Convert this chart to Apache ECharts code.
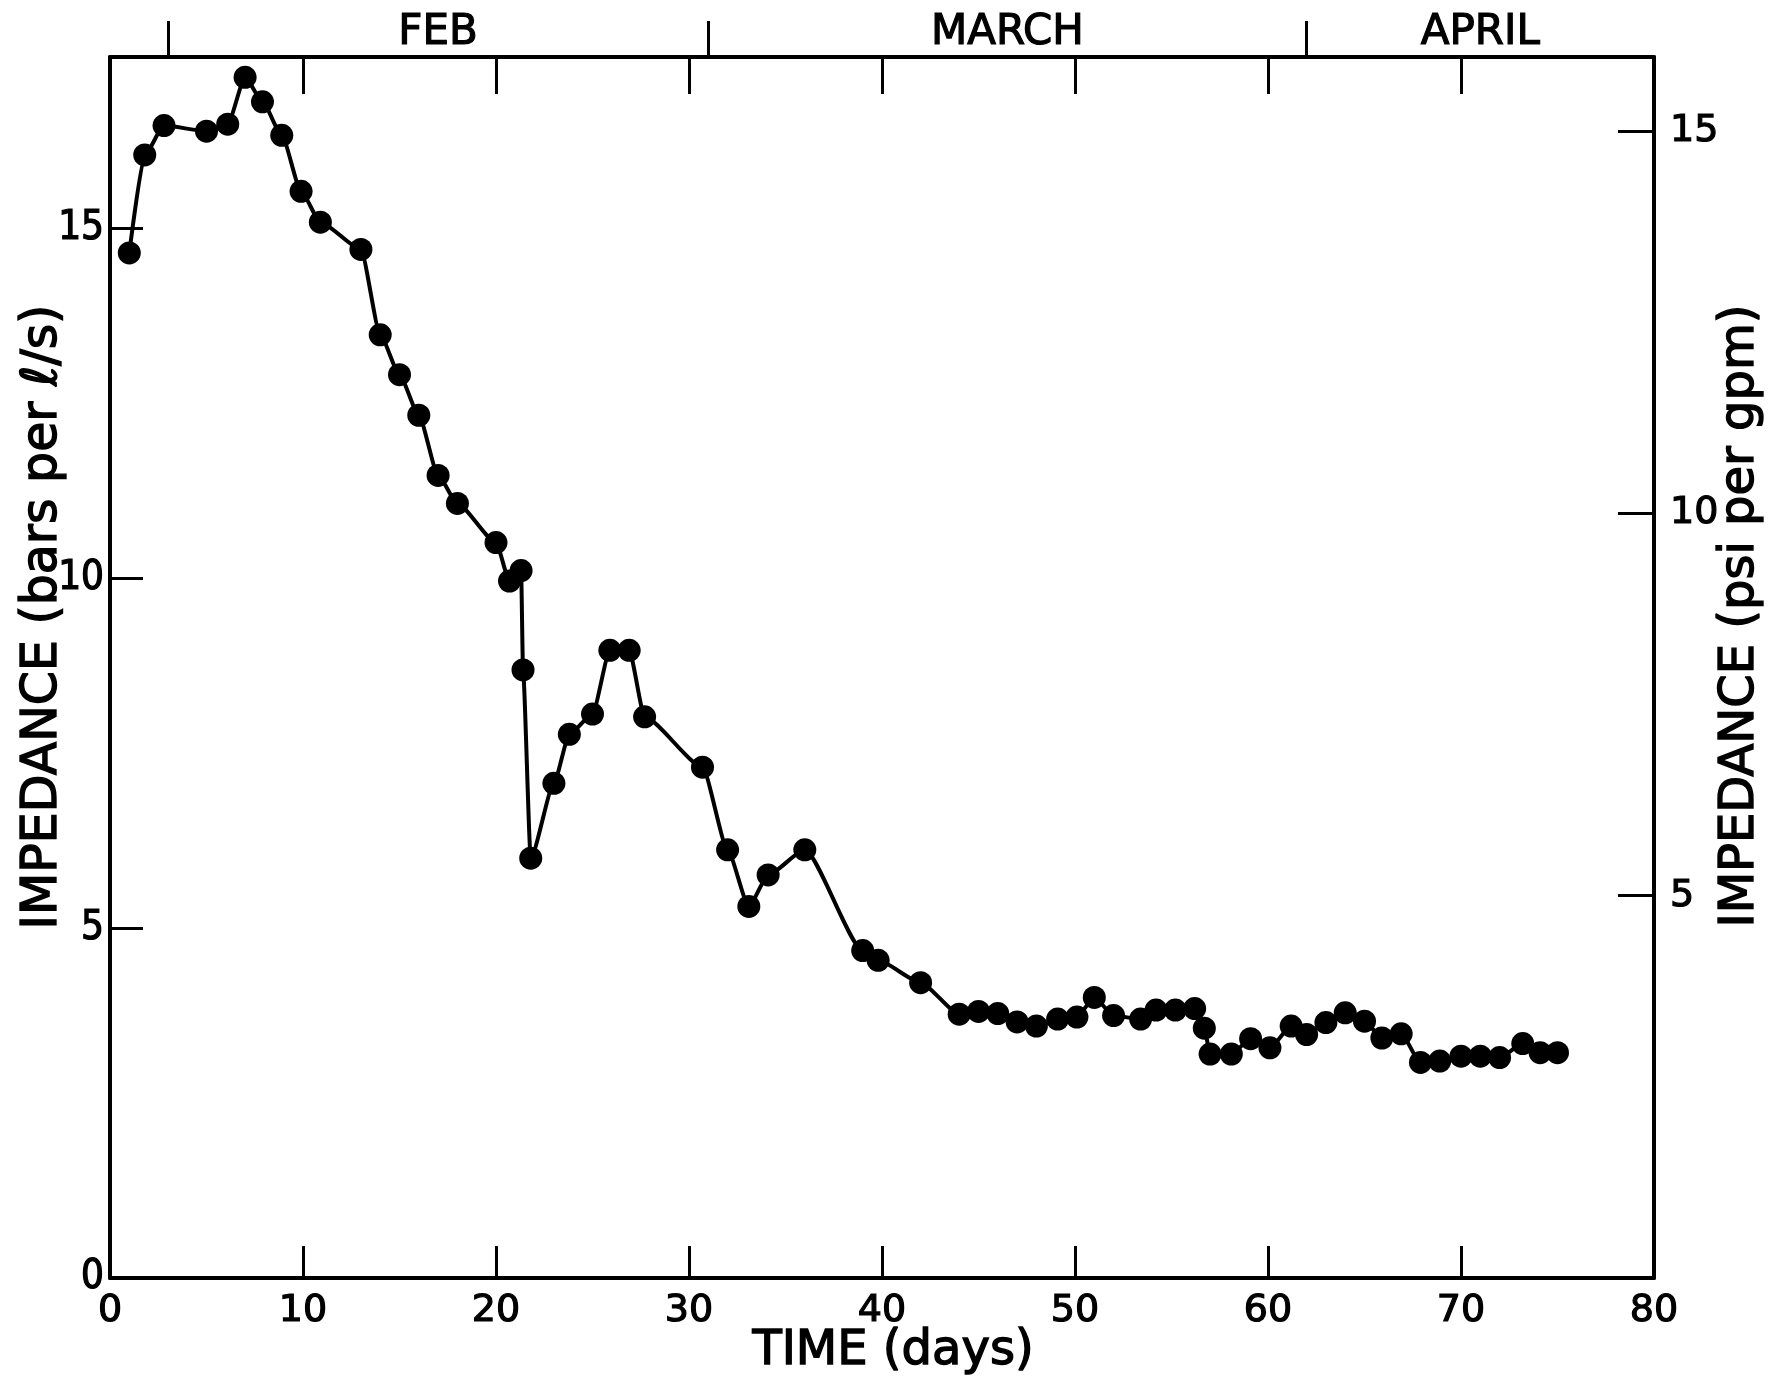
<!DOCTYPE html>
<html>
<head>
<meta charset="utf-8">
<title>Impedance vs time</title>
<script src="https://cdn.jsdelivr.net/npm/echarts@6/dist/echarts.min.js"></script>
<style>
  html, body { margin: 0; padding: 0; background: #fff; }
  #chart { width: 1784px; height: 1387px; }
</style>
</head>
<body>
<div id="chart"></div>
<script>
// Measurement days (from start of test) and impedance in bars per l/s
const DAYS = [
  1, 1.8, 2.8, 5, 6.1, 7, 7.9, 8.9, 9.9, 10.9,
  13, 14, 15, 16, 17, 18, 20, 20.7, 21.3, 21.4,
  21.8, 23, 23.8, 25, 25.9, 26.9, 27.7, 30.7, 32, 33.1,
  34.1, 36, 39, 39.8, 42, 44, 45, 46, 47, 48,
  49.1, 50.1, 51, 52, 53.4, 54.2, 55.2, 56.2, 56.7, 57,
  58.1, 59.1, 60.1, 61.2, 62, 63, 64, 65, 65.9, 66.9,
  67.9, 68.9, 70, 71, 72, 73.2, 74.1, 75
];
const IMPEDANCE_BAR = [
  14.65, 16.05, 16.47, 16.39, 16.49, 17.16, 16.81, 16.33, 15.53, 15.09,
  14.70, 13.48, 12.91, 12.33, 11.47, 11.07, 10.51, 9.96, 10.11, 8.69,
  6.00, 7.07, 7.77, 8.06, 8.97, 8.97, 8.02, 7.30, 6.12, 5.31,
  5.76, 6.12, 4.68, 4.54, 4.22, 3.77, 3.81, 3.78, 3.66, 3.60,
  3.70, 3.73, 4.01, 3.75, 3.70, 3.83, 3.83, 3.85, 3.57, 3.20,
  3.20, 3.42, 3.29, 3.60, 3.48, 3.65, 3.79, 3.67, 3.43, 3.49,
  3.08, 3.10, 3.17, 3.17, 3.15, 3.35, 3.22, 3.22
];

// Calendar months along the top: day on which each month starts, and label position
const MONTH_NAMES = ['FEB', 'MARCH', 'APRIL'];
const MONTH_START_DAYS = [3, 31, 62];
const MONTH_LABEL_DAYS = [17, 46.5, 71];

// Tick values on the two impedance scales
const BAR_TICKS = [5, 10, 15];
const BAR_LABELS = [0, 5, 10, 15];
const PSI_TICKS = [5, 10, 15];

// Axis ranges
const DAY_MAX = 80;
const DAY_STEP = 10;
const BAR_MAX = 17.45;
// 1 bar/(l/s) expressed in psi/gpm
const PSI_GPM_PER_BAR_LS = 14.5038 / 15.8503;

const FONT = '"DejaVu Sans", "Liberation Sans", sans-serif';
const FONT_NARROW = '"Liberation Sans Narrow", "DejaVu Sans Condensed", "DejaVu Sans", sans-serif';
const INK = '#000';
const LEFT_TICK_LEN = 33;

const chart = echarts.init(document.getElementById('chart'), null, { renderer: 'canvas' });

const points = DAYS.map((d, i) => [d, IMPEDANCE_BAR[i]]);

function frameLine() {
  return { show: true, onZero: false, lineStyle: { color: INK, width: 4 } };
}
function ticks(inside, length, extra) {
  return Object.assign({ show: true, inside: inside, length: length, lineStyle: { color: INK, width: 3 } }, extra || {});
}
function tickLabel(extra) {
  return Object.assign({
    color: INK, fontFamily: FONT, fontSize: 38,
    textBorderColor: INK, textBorderWidth: 1.2
  }, extra || {});
}

function titleText(id, text, x, y, size, rotation) {
  return {
    id: id, type: 'text', x: x, y: y, rotation: rotation,
    style: {
      text: text, font: size + 'px ' + FONT, fill: INK,
      stroke: INK, lineWidth: 1.4,
      align: 'center', verticalAlign: 'middle',
      textAlign: 'center', textVerticalAlign: 'middle'
    }
  };
}

chart.setOption({
  backgroundColor: '#fff',
  animation: false,
  grid: { left: 110, right: 130, top: 57, bottom: 109, containLabel: false },
  xAxis: [
    {
      type: 'value', position: 'bottom', min: 0, max: DAY_MAX, interval: DAY_STEP,
      axisLine: frameLine(),
      axisTick: ticks(true, 32),
      axisLabel: tickLabel({ margin: 14 }),
      splitLine: { show: false }
    },
    {
      type: 'value', position: 'top', offset: 0, min: 0, max: DAY_MAX, interval: DAY_STEP,
      axisLine: frameLine(),
      axisTick: ticks(true, 37),
      axisLabel: { show: false },
      splitLine: { show: false }
    },
    {
      type: 'value', position: 'top', offset: 0, min: 0, max: DAY_MAX,
      axisLine: { show: false, onZero: false },
      axisTick: ticks(false, 36, { customValues: MONTH_START_DAYS }),
      axisLabel: tickLabel({
        fontSize: 42, margin: 3,
        customValues: MONTH_LABEL_DAYS,
        formatter: (v) => MONTH_NAMES[MONTH_LABEL_DAYS.indexOf(v)] || ''
      }),
      splitLine: { show: false }
    }
  ],
  yAxis: [
    {
      type: 'value', position: 'left', min: 0, max: BAR_MAX,
      axisLine: frameLine(),
      axisTick: ticks(true, LEFT_TICK_LEN, { customValues: BAR_TICKS }),
      axisLabel: tickLabel({ margin: 6, customValues: BAR_LABELS, fontFamily: FONT_NARROW, fontSize: 40 }),
      splitLine: { show: false }
    },
    {
      type: 'value', position: 'right', min: 0, max: BAR_MAX * PSI_GPM_PER_BAR_LS,
      axisLine: frameLine(),
      axisTick: ticks(true, 36, { customValues: PSI_TICKS }),
      axisLabel: tickLabel({ margin: 16, customValues: PSI_TICKS }),
      splitLine: { show: false }
    }
  ],
  graphic: [
    titleText('titleLeft', 'IMPEDANCE (bars per \u2113/s)', 43, 617, 49, Math.PI / 2),
    titleText('titleRight', 'IMPEDANCE (psi per gpm)', 1741, 616, 48, Math.PI / 2),
    titleText('titleBottom', 'TIME (days)', 893, 1352, 48, 0)
  ],
  series: [
    {
      type: 'line',
      xAxisIndex: 0,
      yAxisIndex: 0,
      data: points,
      smooth: 0.2,
      smoothMonotone: 'x',
      symbol: 'circle',
      symbolSize: 23,
      showAllSymbol: true,
      itemStyle: { color: INK },
      lineStyle: { color: INK, width: 4 },
      clip: false,
      z: 3,
      // inward tick marks on the bar scale, anchored in data space at the left edge
      markLine: {
        silent: true,
        symbol: 'none',
        label: { show: false },
        lineStyle: { color: INK, width: 3, type: 'solid' },
        data: BAR_TICKS.map((v) => [
          { coord: [0, v] },
          { coord: [0, v], x: undefined }
        ])
      }
    }
  ]
});

// The mark lines above start on the axis; stretch each one inward by a fixed pixel length
const edgeX = chart.convertToPixel({ xAxisIndex: 0 }, 0);
const tickEndDay = chart.convertFromPixel({ xAxisIndex: 0 }, edgeX + LEFT_TICK_LEN);
chart.setOption({
  series: [{
    markLine: {
      data: BAR_TICKS.map((v) => [{ coord: [0, v] }, { coord: [tickEndDay, v] }])
    }
  }]
});
</script>
</body>
</html>
